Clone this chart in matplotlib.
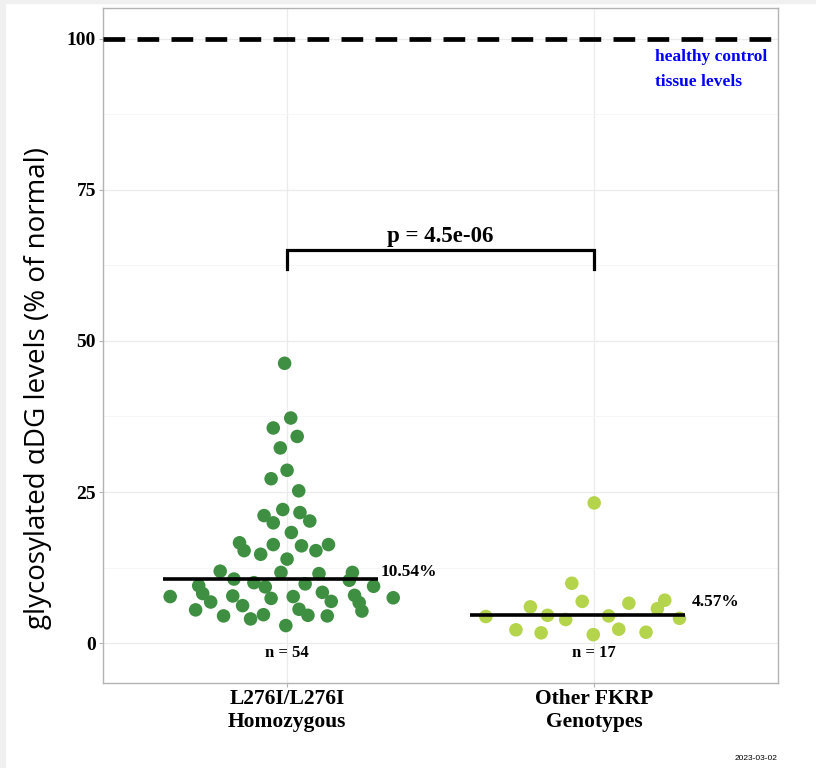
import matplotlib
matplotlib.use("Agg")
import matplotlib.pyplot as plt
from matplotlib.patches import Rectangle

# values (% of normal) and horizontal jitter offsets
homo_vals = [46.3, 37.25, 35.6, 34.2, 32.3, 28.6, 27.2, 25.2, 22.1, 21.1,
             21.6, 19.9, 20.2, 18.3, 16.6, 15.3, 16.3, 16.1, 14.7, 15.3,
             16.3, 13.9, 11.9, 11.7, 11.5, 11.7, 10.6, 10.4, 10.0, 9.5,
             9.3, 9.8, 9.4, 8.2, 8.4, 7.7, 6.8, 7.8, 7.4, 7.7,
             7.9, 7.5, 6.9, 6.2, 6.7, 5.5, 5.6, 5.3, 4.5, 4.0,
             4.7, 4.6, 4.5, 2.9]
homo_jit = [-0.008, 0.012, -0.045, 0.033, -0.022, 0.0, -0.052, 0.038, -0.014, -0.075,
            0.042, -0.045, 0.074, 0.014, -0.155, -0.140, -0.045, 0.047, -0.086, 0.094,
            0.135, 0.0, -0.218, -0.020, 0.104, 0.213, -0.173, 0.203, -0.108, -0.288,
            -0.071, 0.059, 0.282, -0.275, 0.115, -0.381, -0.249, -0.177, -0.052, 0.020,
            0.220, 0.346, 0.144, -0.145, 0.235, -0.298, 0.039, 0.244, -0.207, -0.119,
            -0.077, 0.068, 0.131, -0.004]

other_vals = [23.2, 9.9, 6.9, 6.6, 7.1, 5.7, 6.0, 4.6, 4.4, 3.9,
              4.5, 4.1, 2.2, 1.7, 2.3, 1.8, 1.4]
other_jit = [0.001, -0.072, -0.038, 0.114, 0.231, 0.207, -0.207, -0.151, -0.352, -0.092,
             0.048, 0.279, -0.254, -0.172, 0.081, 0.170, -0.002]

groups = ["L276I/L276I\nHomozygous", "Other FKRP\nGenotypes"]
medians = [10.54, 4.57]
counts = [54, 17]
colors = ["#3f8f42", "#b4d44c"]
p_text = "p = 4.5e-06"

serif = "Liberation Serif"

fig = plt.figure(figsize=(8.16, 7.68), dpi=100)
fig.patches.append(Rectangle((0, 0.996), 1, 0.004, transform=fig.transFigure,
                             color="#f0f0f0", zorder=0))
fig.patches.append(Rectangle((0, 0), 0.006, 1, transform=fig.transFigure,
                             color="#f0f0f0", zorder=0))
ax = fig.add_axes([0.1262, 0.1107, 0.8272, 0.8789])

ax.set_xlim(0.4, 2.6)
ax.set_ylim(-6.6, 105.1)

# grid like ggplot theme_light
ax.set_yticks([0, 25, 50, 75, 100])
ax.set_yticks([12.5, 37.5, 62.5, 87.5], minor=True)
ax.set_xticks([1, 2])
ax.grid(True, which="major", color="#ebebeb", linewidth=0.9)
ax.grid(True, which="minor", axis="y", color="#f5f5f5", linewidth=0.6)
ax.set_axisbelow(True)
for s in ax.spines.values():
    s.set_color("#b3b3b3")
    s.set_linewidth(1.0)
ax.tick_params(which="major", length=3, color="#b3b3b3", pad=2)
ax.tick_params(axis="x", pad=1)
ax.tick_params(which="minor", length=0)

ax.set_yticklabels(["0", "25", "50", "75", "100"], fontfamily=serif,
                   fontweight="bold", fontsize=14)
ax.set_xticklabels(groups, fontfamily=serif, fontweight="bold", fontsize=15.5,
                   linespacing=1.2)

# points
ax.scatter([1 + j for j in homo_jit], homo_vals, s=95, color=colors[0],
           edgecolors="none", zorder=3)
ax.scatter([2 + j for j in other_jit], other_vals, s=95, color=colors[1],
           edgecolors="none", zorder=3)

# medians and labels
for i, (m, n) in enumerate(zip(medians, counts)):
    x = i + 1
    ax.plot([x - 0.403, x + 0.297], [m, m], color="black", linewidth=2.6,
            solid_capstyle="butt", zorder=4)
    ax.text(x + 0.305 + 0.015 * i, m + 1.3 + 0.9 * i, "%.2f%%" % m,
            fontfamily=serif, fontweight="bold", fontsize=12.5,
            ha="left", va="center")
    ax.text(x, -1.7, "n = %d" % n, fontfamily=serif, fontweight="bold",
            fontsize=12, ha="center", va="center")

# healthy control reference line
ax.axhline(100, color="black", linewidth=3.4, dashes=(4.6, 2.6), zorder=4)
ax.text(2.199, 94.9, "healthy control\ntissue levels", color="blue",
        fontfamily=serif, fontweight="bold", fontsize=12.5, ha="left",
        va="center", linespacing=1.75)

# significance bracket
ax.plot([1, 1, 2, 2], [61.9, 65.1, 65.1, 61.9], color="black",
        linewidth=2.3, solid_joinstyle="miter", zorder=4)
ax.text(1.5, 67.3, p_text, fontfamily=serif, fontweight="bold",
        fontsize=16.5, ha="center", va="center")

ax.set_ylabel("glycosylated αDG levels (% of normal)", fontsize=20,
              fontfamily="Open Sans")
ax.yaxis.set_label_coords(-0.075, 0.437)

fig.text(0.953, 0.008, "2023-03-02", fontsize=6, ha="right", va="bottom",
         fontfamily="Liberation Sans")

fig.savefig("out.png", dpi=100)
